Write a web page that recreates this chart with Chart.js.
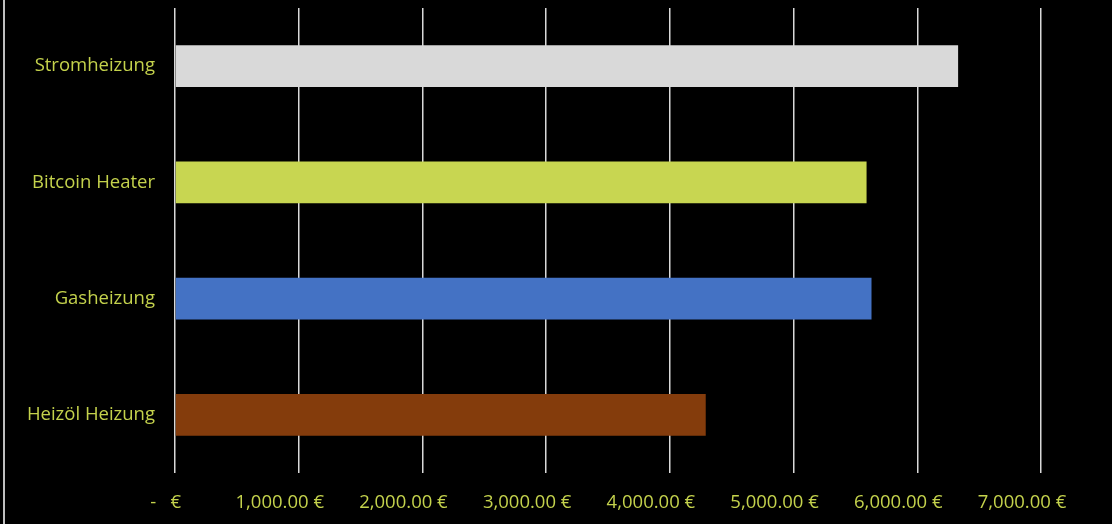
<!DOCTYPE html>
<html>
<head>
<meta charset="utf-8">
<script src="https://cdn.jsdelivr.net/npm/chart.js@4.4.1/dist/chart.umd.min.js"></script>
<style>
  html, body { margin: 0; padding: 0; background: #000; }
  #wrap { position: relative; width: 1112px; height: 524px; }
  #edge { position: absolute; left: 3px; top: 0; width: 2px; height: 524px; background: #bfbfbf; }
</style>
</head>
<body>
<div id="wrap">
  <canvas id="heatChart" width="1112" height="524"></canvas>
  <div id="edge"></div>
</div>
<script>
// Heizkosten pro Jahr
const categories = ["Stromheizung", "Bitcoin Heater", "Gasheizung", "Heizöl Heizung"];
const costs = [6330, 5590, 5630, 4290];
const barColors = ["#d9d9d9", "#c8d651", "#4472c4", "#843c0c"];
const tickValues = [0, 1000, 2000, 3000, 4000, 5000, 6000, 7000];

const labelColor = "#c4d24c";
const font = { family: "'Open Sans', 'Noto Sans', sans-serif", size: 18.5 };

// Excel-style accounting format
function euro(v) {
  if (v === 0) return "    -   €";
  return v.toLocaleString("en-US", { minimumFractionDigits: 2, maximumFractionDigits: 2 }) + " €";
}

const ctx = document.getElementById("heatChart").getContext("2d");

new Chart(ctx, {
  type: "bar",
  data: {
    labels: categories,
    datasets: [
      {
        data: costs,
        backgroundColor: barColors,
        borderWidth: 0,
        categoryPercentage: 1,
        barPercentage: 0.36,
      },
    ],
  },
  options: {
    indexAxis: "y",
    responsive: false,
    animation: false,
    layout: { padding: { top: 8, right: 71, left: 0, bottom: 0 } },
    plugins: {
      legend: { display: false },
      tooltip: { enabled: false },
    },
    scales: {
      x: {
        min: 0,
        max: 7000,
        afterBuildTicks: (scale) => {
          scale.ticks = tickValues.map((v) => ({ value: v }));
        },
        afterFit: (scale) => {
          scale.height = 51;
          scale.paddingLeft = 0;
          scale.paddingRight = 0;
        },
        grid: { color: "#d9d9d9", lineWidth: 1.5, drawTicks: false },
        border: { display: false },
        ticks: {
          color: labelColor,
          font: font,
          padding: 19,
          labelOffset: -19,
          maxRotation: 0,
          callback: (v) => euro(v),
        },
      },
      y: {
        afterFit: (scale) => {
          scale.width = 175;
          scale.paddingTop = 0;
          scale.paddingBottom = 0;
        },
        grid: { display: false, drawTicks: false },
        border: { display: false },
        ticks: { color: labelColor, font: font, padding: 20 },
      },
    },
  },
});
</script>
</body>
</html>
